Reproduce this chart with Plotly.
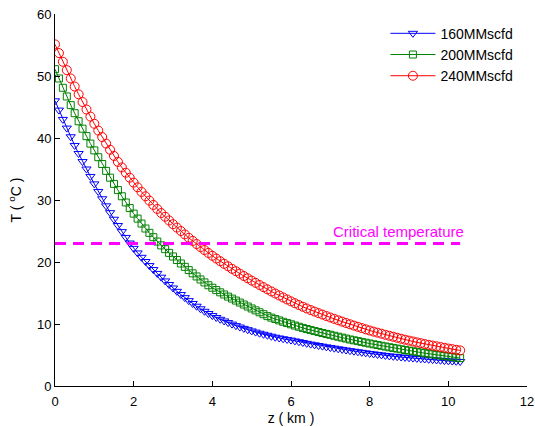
import plotly.graph_objects as go

# distance along the line (km)
Z_KM = [0.0, 0.1, 0.2, 0.3, 0.4, 0.5, 0.6, 0.7, 0.8, 0.9,
        1.0, 1.1, 1.2, 1.3, 1.4, 1.5, 1.6, 1.7, 1.8, 1.9,
        2.0, 2.1, 2.2, 2.3, 2.4, 2.5, 2.6, 2.7, 2.8, 2.9,
        3.0, 3.1, 3.2, 3.3, 3.4, 3.5, 3.6, 3.7, 3.8, 3.9,
        4.0, 4.1, 4.2, 4.3, 4.4, 4.5, 4.6, 4.7, 4.8, 4.9,
        5.0, 5.1, 5.2, 5.3, 5.4, 5.5, 5.6, 5.7, 5.8, 5.9,
        6.0, 6.1, 6.2, 6.3, 6.4, 6.5, 6.6, 6.7, 6.8, 6.9,
        7.0, 7.1, 7.2, 7.3, 7.4, 7.5, 7.6, 7.7, 7.8, 7.9,
        8.0, 8.1, 8.2, 8.3, 8.4, 8.5, 8.6, 8.7, 8.8, 8.9,
        9.0, 9.1, 9.2, 9.3, 9.4, 9.5, 9.6, 9.7, 9.8, 9.9,
        10.0, 10.1, 10.2, 10.3]

T_160 = [46.0, 44.5, 43.0, 41.6, 40.2, 38.8, 37.5, 36.2, 35.0, 33.8,
         32.6, 31.38, 30.2, 29.06, 27.96, 26.9, 25.88, 24.9, 23.96, 23.06,
         22.2, 21.46, 20.76, 20.08, 19.42, 18.78, 18.16, 17.55, 16.95, 16.37,
         15.81, 15.27, 14.75, 14.25, 13.77, 13.31, 12.87, 12.45, 12.05, 11.69,
         11.36, 11.05, 10.76, 10.49, 10.23, 9.98, 9.74, 9.51, 9.29, 9.08,
         8.88, 8.69, 8.51, 8.34, 8.18, 8.02, 7.87, 7.74, 7.62, 7.51,
         7.4, 7.27, 7.14, 7.01, 6.88, 6.75, 6.64, 6.53, 6.42, 6.31,
         6.2, 6.1, 6.0, 5.9, 5.8, 5.7, 5.61, 5.52, 5.43, 5.34,
         5.25, 5.17, 5.09, 5.01, 4.93, 4.85, 4.79, 4.73, 4.67, 4.61,
         4.55, 4.5, 4.45, 4.4, 4.35, 4.3, 4.25, 4.2, 4.15, 4.1,
         4.05, 4.02, 3.98, 3.95]

T_200 = [51.1, 49.6, 48.1, 46.7, 45.3, 44.0, 42.7, 41.5, 40.3, 39.1,
         38.0, 36.9, 35.8, 34.7, 33.6, 32.6, 31.6, 30.6, 29.6, 28.7,
         27.8, 27.0, 26.2, 25.4, 24.7, 24.0, 23.3, 22.68, 22.07, 21.47,
         20.89, 20.32, 19.76, 19.22, 18.69, 18.17, 17.67, 17.18, 16.71, 16.25,
         15.85, 15.47, 15.11, 14.76, 14.42, 14.1, 13.78, 13.46, 13.14, 12.82,
         12.51, 12.2, 11.89, 11.58, 11.27, 11.03, 10.8, 10.58, 10.36, 10.15,
         9.95, 9.75, 9.56, 9.37, 9.19, 9.02, 8.86, 8.7, 8.55, 8.4,
         8.26, 8.1, 7.95, 7.8, 7.65, 7.5, 7.37, 7.24, 7.11, 6.98,
         6.85, 6.73, 6.61, 6.49, 6.37, 6.25, 6.14, 6.03, 5.92, 5.81,
         5.7, 5.6, 5.5, 5.4, 5.3, 5.2, 5.11, 5.02, 4.93, 4.84,
         4.75, 4.67, 4.58, 4.5]

T_240 = [55.1, 53.7, 52.3, 50.95, 49.6, 48.3, 47.05, 45.8, 44.6, 43.45,
         42.3, 41.2, 40.15, 39.1, 38.1, 37.1, 36.15, 35.25, 34.4, 33.6,
         32.8, 32.05, 31.3, 30.6, 29.9, 29.2, 28.55, 27.9, 27.3, 26.7,
         26.1, 25.55, 25.0, 24.45, 23.9, 23.4, 22.9, 22.41, 21.93, 21.46,
         21.0, 20.56, 20.13, 19.71, 19.3, 18.9, 18.51, 18.12, 17.74, 17.37,
         17.0, 16.64, 16.29, 15.94, 15.59, 15.25, 14.92, 14.6, 14.28, 13.96,
         13.65, 13.35, 13.06, 12.78, 12.51, 12.25, 12.0, 11.76, 11.52, 11.28,
         11.05, 10.82, 10.6, 10.38, 10.16, 9.95, 9.74, 9.54, 9.34, 9.14,
         8.95, 8.77, 8.6, 8.43, 8.26, 8.1, 7.94, 7.78, 7.62, 7.47,
         7.32, 7.18, 7.04, 6.91, 6.77, 6.64, 6.52, 6.4, 6.28, 6.16,
         6.04, 5.94, 5.84, 5.74]

SERIES_NAMES = ["160MMscfd", "200MMscfd", "240MMscfd"]
CRIT_T = 23
CRIT_LABEL = "Critical temperature"
X_TICKS = [0, 2, 4, 6, 8, 10, 12]
Y_TICKS = [0, 10, 20, 30, 40, 50, 60]

FONT = "Liberation Sans, Arial, Helvetica, sans-serif"

fig = go.Figure()

styles = [
    ("rgb(0,0,255)", "triangle-down-open", 8),
    ("rgb(0,128,0)", "square-open", 7),
    ("rgb(255,0,0)", "circle-open", 9),
]
for name, ys, (col, sym, sz) in zip(SERIES_NAMES, [T_160, T_200, T_240], styles):
    fig.add_trace(go.Scatter(
        x=Z_KM, y=ys, name=name, mode="lines+markers",
        line=dict(color=col, width=1),
        marker=dict(symbol=sym, size=sz, color=col, line=dict(width=1, color=col)),
    ))

fig.add_trace(go.Scatter(
    x=[Z_KM[0], Z_KM[-1]], y=[CRIT_T, CRIT_T], mode="lines",
    line=dict(color="rgb(255,0,255)", width=3, dash="11px,7px"),
    showlegend=False, hoverinfo="skip",
))

fig.add_annotation(
    x=Z_KM[-1] + 0.15, y=CRIT_T, xref="x", yref="y", text=CRIT_LABEL,
    showarrow=False, xanchor="right", yanchor="bottom", yshift=1,
    font=dict(family=FONT, size=15, color="rgb(255,0,255)"),
)

axis_common = dict(
    showline=True, linecolor="black", linewidth=1, mirror=False,
    ticks="inside", ticklen=5, tickcolor="black", tickwidth=1,
    showgrid=False, zeroline=False, automargin=False,
    ticklabeloverflow="allow",
    tickfont=dict(family=FONT, size=13, color="black"),
)

fig.update_layout(
    width=535, height=427,
    margin=dict(l=55, r=8, t=14, b=41),
    paper_bgcolor="white", plot_bgcolor="white",
    font=dict(family=FONT, size=13, color="black"),
    xaxis=dict(range=[0, 12], tickvals=X_TICKS, ticklabelstandoff=3,
               title=dict(text="z ( km )", standoff=5,
                          font=dict(family=FONT, size=14)),
               **axis_common),
    yaxis=dict(range=[0, 60], tickvals=Y_TICKS,
               title=dict(text="T ( <sup>o</sup>C )", standoff=12,
                          font=dict(family=FONT, size=14)),
               **axis_common),
    legend=dict(x=0.70, y=0.99, xanchor="left", yanchor="top",
                bgcolor="rgba(0,0,0,0)", borderwidth=0, itemwidth=45,
                font=dict(family=FONT, size=14, color="black"),
                tracegroupgap=0, itemsizing="trace"),
    showlegend=True,
)

# remove the browser's default 8px page margin so the figure fills the window
fig.write_html(
    "out.html",
    config={"displayModeBar": False},
    post_script="document.body.style.margin='0';document.body.style.overflow='hidden';",
)
